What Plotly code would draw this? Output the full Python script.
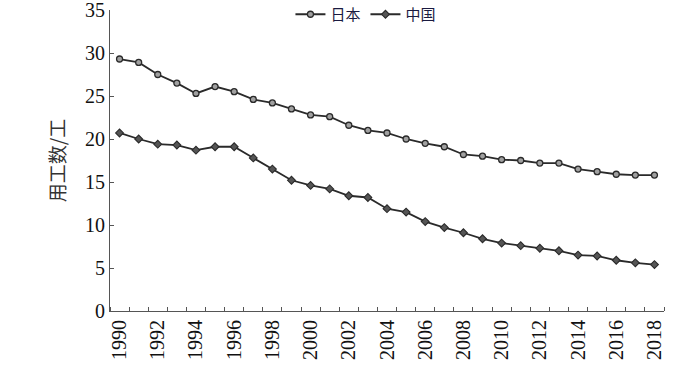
import plotly.graph_objects as go

years = list(range(1990, 2019))
japan = [29.3, 28.9, 27.5, 26.5, 25.3, 26.1, 25.5, 24.6, 24.2, 23.5, 22.8, 22.6, 21.6, 21.0, 20.7,
         20.0, 19.5, 19.1, 18.2, 18.0, 17.6, 17.5, 17.2, 17.2, 16.5, 16.2, 15.9, 15.8, 15.8]
china = [20.7, 20.0, 19.4, 19.3, 18.7, 19.1, 19.1, 17.8, 16.5, 15.2, 14.6, 14.2, 13.4, 13.2, 11.9,
         11.5, 10.4, 9.7, 9.1, 8.4, 7.9, 7.6, 7.3, 7.0, 6.5, 6.4, 5.9, 5.6, 5.4]
xtick_vals = list(range(1990, 2019, 2))
ytick_vals = list(range(0, 36, 5))

fig = go.Figure()
fig.add_trace(go.Scatter(
    x=years, y=japan, name="日本", mode="lines+markers",
    line=dict(color="#2a2a2a", width=1.8),
    marker=dict(symbol="circle", size=6, color="#a0a0a0", line=dict(color="#2a2a2a", width=1.3)),
))
fig.add_trace(go.Scatter(
    x=years, y=china, name="中国", mode="lines+markers",
    line=dict(color="#2a2a2a", width=1.8),
    marker=dict(symbol="diamond", size=6, color="#555555", line=dict(color="#2a2a2a", width=1.1)),
))

fig.update_layout(
    width=697, height=368,
    margin=dict(l=110, r=33, t=10, b=57, autoexpand=False),
    paper_bgcolor="white", plot_bgcolor="white",
    showlegend=True,
    legend=dict(orientation="h", x=0.462, xanchor="center", y=0.985, yanchor="middle",
                font=dict(family="Noto Sans CJK SC", size=15, color="#1a1a40"),
                bgcolor="rgba(0,0,0,0)", itemwidth=30),
    font=dict(family="Liberation Serif", color="#111111"),
)
fig.update_xaxes(
    range=[1989.5, 2018.5], tickmode="array", tickvals=xtick_vals,
    ticktext=[str(v) for v in xtick_vals], tickangle=-90,
    tickfont=dict(family="Liberation Serif", size=20, color="#111111"),
    ticklabeloverflow="allow",
    ticks="", showgrid=False, zeroline=False,
    showline=True, linecolor="#555555", linewidth=1,
    minor=dict(tick0=1989.5, dtick=1, ticks="inside", ticklen=4, tickcolor="#555555", showgrid=False),
)
fig.update_yaxes(
    range=[0, 35], tickmode="array", tickvals=ytick_vals,
    tickfont=dict(family="Liberation Serif", size=20, color="#111111"),
    ticklabeloverflow="allow",
    ticks="inside", ticklen=4, tickcolor="#555555",
    showgrid=False, zeroline=False,
    showline=True, linecolor="#555555", linewidth=1,
    title=dict(text="用工数/工", font=dict(family="Noto Sans CJK SC", size=19, color="#333333"), standoff=14),
)

fig.write_html("out.html", config={"displayModeBar": False},
               post_script="document.body.style.margin='0';document.body.style.overflow='hidden';")
